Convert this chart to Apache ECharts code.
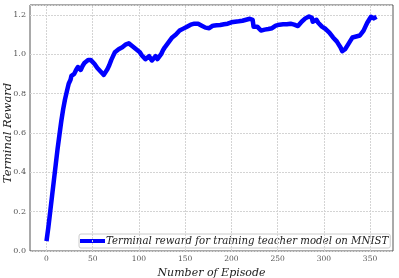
<!DOCTYPE html>
<html><head><meta charset="utf-8">
<script src="https://cdn.jsdelivr.net/npm/echarts@6/dist/echarts.min.js"></script>
<style>html,body{margin:0;padding:0;background:#fff}#c{width:399px;height:278px}</style>
</head><body><div id="c"></div>
<script>
var episodes = [0,2,4,6,8,10,12,14,16,18,20,22,24,26,27,28,30,32,34,36,37,39,41,43,45,46,48,50,52,55,58,60,62,64,66,68,70,72,74,76,78,80,82,84,86,88,89,91,93,95,97,99,101,103,105,107,109,111,113,114,116,118,120,122,124,126,128,130,132,134,136,138,140,142,144,146,148,150,152,154,156,158,160,162,164,166,168,170,172,174,176,178,180,182,184,186,188,190,192,194,196,198,200,202,204,206,208,210,212,214,216,218,220,222,223,224,226,228,230,232,234,236,238,240,242,244,246,248,250,252,254,256,258,260,262,264,266,268,270,272,274,276,278,280,282,284,285,287,288,290,292,294,296,298,300,302,304,306,308,310,312,314,316,318,320,321,323,325,327,329,331,333,335,337,339,341,343,345,347,349,351,353,354,356,357];
var rewards = [0.05,0.12,0.20,0.28,0.36,0.44,0.52,0.59,0.66,0.72,0.77,0.81,0.85,0.87,0.89,0.88,0.90,0.92,0.935,0.93,0.92,0.94,0.955,0.965,0.97,0.965,0.97,0.96,0.95,0.93,0.915,0.905,0.895,0.905,0.925,0.945,0.97,0.99,1.01,1.02,1.025,1.02,1.035,1.04,1.05,1.06,1.055,1.05,1.04,1.03,1.025,1.015,1.01,0.995,0.985,0.975,0.97,0.99,0.985,0.968,0.975,0.99,0.975,0.985,1.0,1.02,1.035,1.045,1.06,1.07,1.085,1.095,1.10,1.11,1.12,1.125,1.13,1.135,1.14,1.145,1.15,1.155,1.155,1.152,1.155,1.153,1.145,1.14,1.135,1.13,1.132,1.14,1.145,1.142,1.147,1.143,1.148,1.145,1.152,1.158,1.155,1.16,1.162,1.16,1.165,1.162,1.167,1.165,1.17,1.168,1.175,1.172,1.18,1.185,1.175,1.14,1.135,1.14,1.13,1.12,1.112,1.125,1.13,1.128,1.135,1.132,1.14,1.145,1.14,1.15,1.148,1.152,1.155,1.152,1.158,1.155,1.158,1.15,1.148,1.143,1.15,1.165,1.175,1.182,1.188,1.192,1.196,1.185,1.165,1.172,1.175,1.16,1.15,1.14,1.135,1.128,1.12,1.11,1.10,1.085,1.078,1.065,1.05,1.035,1.015,1.007,1.025,1.04,1.055,1.07,1.085,1.095,1.09,1.085,1.095,1.10,1.12,1.14,1.16,1.175,1.19,1.193,1.182,1.192,1.19];
var xTicks = [0,50,100,150,200,250,300,350];
var seriesName = 'Terminal reward for training teacher model on MNIST';
var xTitle = 'Number of Episode';
var yTitle = 'Terminal Reward';

var data = episodes.map(function(e,i){return [e, rewards[i]];});
var FONT = 'DejaVu Serif';
var GRIDC = '#d4d4d4';
var chart = echarts.init(document.getElementById('c'), null, {renderer:'canvas'});
chart.setOption({
  animation:false,
  backgroundColor:'#fff',
  grid:{left:30,right:6,top:5,bottom:27,show:true,borderColor:'#555',borderWidth:1,backgroundColor:'transparent',containLabel:false,outerBoundsMode:'none'},
  graphic:[{
    type:'text', x:8, y:133, rotation:Math.PI/2, z:10,
    style:{text:yTitle, fontFamily:FONT, fontStyle:'italic', fontSize:11.5, fill:'#222',
      align:'center', verticalAlign:'middle'}
  }],
  legend:{
    left:79, top:234, itemWidth:25, itemHeight:4, itemGap:2,
    backgroundColor:'#fff', borderColor:'#ccc', borderWidth:1, borderRadius:2, padding:[2,2,2,1],
    textStyle:{fontFamily:FONT, fontStyle:'italic', fontSize:10.2, color:'#222', padding:[0,0,0,-4]},
    icon:'rect',
    data:[seriesName]
  },
  xAxis:{
    type:'value', min:-17.85, max:374.85,
    name:xTitle, nameLocation:'middle', nameGap:12,
    nameTextStyle:{fontFamily:FONT, fontStyle:'italic', fontSize:11, color:'#222'},
    axisLine:{show:false},
    axisTick:{show:false, customValues:xTicks},
    axisLabel:{customValues:xTicks, fontFamily:FONT, fontSize:7.5, color:'#555', margin:4},
    splitLine:{show:false}
  },
  yAxis:{
    type:'value', min:0, max:1.25, interval:0.2,
    axisLine:{show:false}, axisTick:{show:false},
    axisLabel:{fontFamily:FONT, fontSize:8, color:'#555', margin:4, showMaxLabel:false,
      formatter:function(v){return v.toFixed(1);}},
    splitLine:{show:true, lineStyle:{color:GRIDC, width:1, type:[2,1]}}
  },
  series:[{
    type:'line', data:[], z:1, silent:true,
    markLine:{silent:true, symbol:'none', label:{show:false}, animation:false,
      lineStyle:{color:GRIDC, width:1, type:[2,1]},
      data:xTicks.map(function(t){return {xAxis:t};})}
  },{
    name:seriesName, type:'line', data:data, showSymbol:false, symbol:'none',
    lineStyle:{color:'#0000ff', width:4.5, join:'round'},
    itemStyle:{color:'#0000ff'},
    z:5
  }]
});
</script></body></html>
